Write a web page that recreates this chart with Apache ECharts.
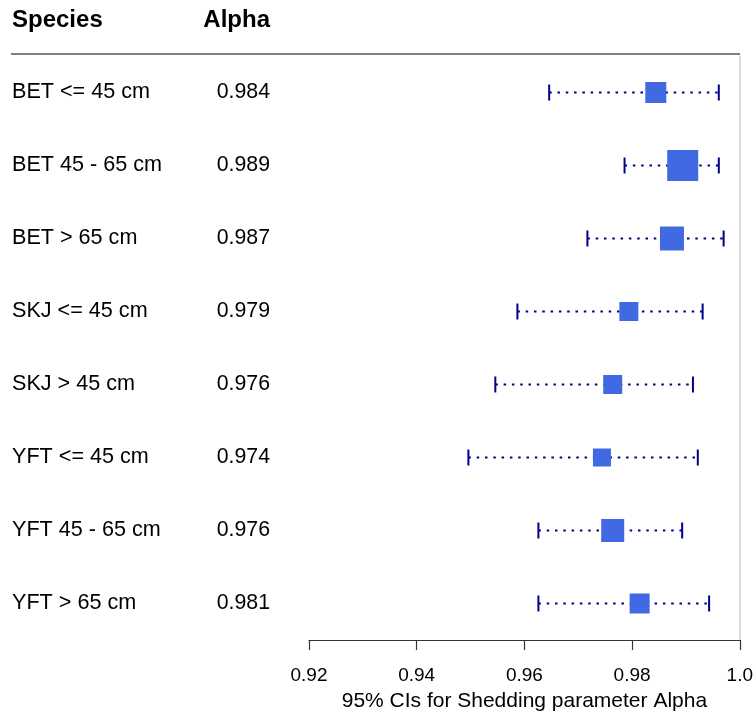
<!DOCTYPE html>
<html>
<head>
<meta charset="utf-8">
<script src="https://cdn.jsdelivr.net/npm/echarts@6/dist/echarts.min.js"></script>
<style>
html,body{margin:0;padding:0;background:#fff;}
#chart{width:756px;height:717px;}
</style>
</head>
<body>
<div id="chart"></div>
<script>
// ---- data ----
const species = ["BET <= 45 cm", "BET 45 - 65 cm", "BET > 65 cm", "SKJ <= 45 cm",
                 "SKJ > 45 cm", "YFT <= 45 cm", "YFT 45 - 65 cm", "YFT > 65 cm"];
const alphaEst = [0.9844, 0.9894, 0.9874, 0.9794, 0.9764, 0.9744, 0.9764, 0.9814];
const ciLower  = [0.9646, 0.9786, 0.9717, 0.9587, 0.9546, 0.9496, 0.9626, 0.9626];
const ciUpper  = [0.9961, 0.9961, 0.9970, 0.9931, 0.9913, 0.9922, 0.9893, 0.9943];
const boxWeight = [0.21, 0.31, 0.24, 0.19, 0.19, 0.18, 0.23, 0.20];
const xTicks = [0.92, 0.94, 0.96, 0.98, 1.0];

// ---- chart ----
const FONT = "'Liberation Sans', Arial, Helvetica, sans-serif";
const NAVY = '#00008B';
const BOX = '#4169E1';
const BOX_SCALE = 100;

const alphaLabels = alphaEst.map(v => v.toFixed(3));
const rows = species.map((s, i) => [i, ciLower[i], alphaEst[i], ciUpper[i], boxWeight[i]]);

function renderItem(params, api) {
  const yi = api.value(0);
  const lo = api.coord([api.value(1), yi]);
  const est = api.coord([api.value(2), yi]);
  const hi = api.coord([api.value(3), yi]);
  const s = api.value(4) * BOX_SCALE;
  const capH = 16;
  return {
    type: 'group',
    children: [
      { type: 'line', shape: { x1: lo[0], y1: lo[1], x2: hi[0], y2: hi[1] },
        style: { stroke: NAVY, lineWidth: 2, lineDash: [2.5, 5.8] } },
      { type: 'line', shape: { x1: lo[0], y1: lo[1] - capH / 2, x2: lo[0], y2: lo[1] + capH / 2 },
        style: { stroke: NAVY, lineWidth: 2 } },
      { type: 'line', shape: { x1: hi[0], y1: hi[1] - capH / 2, x2: hi[0], y2: hi[1] + capH / 2 },
        style: { stroke: NAVY, lineWidth: 2 } },
      { type: 'rect', shape: { x: est[0] - s / 2, y: est[1] - s / 2, width: s, height: s },
        style: { fill: BOX } }
    ]
  };
}

const chart = echarts.init(document.getElementById('chart'), null, { renderer: 'canvas' });
chart.setOption({
  animation: false,
  backgroundColor: '#fff',
  textStyle: { fontFamily: FONT },
  grid: { left: 309, right: 16, top: 56, bottom: 74, containLabel: false },
  xAxis: {
    type: 'value',
    min: xTicks[0], max: xTicks[xTicks.length - 1], interval: 0.02,
    axisLine: { show: true, lineStyle: { color: '#333', width: 1.2 } },
    axisTick: { show: true, length: 10, lineStyle: { color: '#333', width: 1.2 } },
    splitLine: { show: false },
    axisLabel: {
      color: '#000', fontSize: 19, fontFamily: FONT, margin: 26,
      formatter: v => (Math.abs(v - 1) < 1e-9 ? '1.0' : v.toFixed(2))
    },
    name: '95% CIs for Shedding parameter Alpha',
    nameLocation: 'middle', nameGap: 51,
    nameTextStyle: { color: '#000', fontSize: 21, fontFamily: FONT }
  },
  yAxis: [
    {
      type: 'category', data: species, inverse: true, position: 'left',
      axisLine: { show: false }, axisTick: { show: false }, splitLine: { show: false },
      axisLabel: { align: 'left', margin: 297, color: '#000', fontSize: 21.6, fontFamily: FONT }
    },
    {
      type: 'category', data: alphaLabels, inverse: true, position: 'left',
      axisLine: { show: false }, axisTick: { show: false }, splitLine: { show: false },
      axisLabel: { align: 'right', margin: 39, color: '#000', fontSize: 21.3, fontFamily: FONT }
    },
    {
      type: 'category', data: species, inverse: true, position: 'right',
      axisLine: { show: true, lineStyle: { color: '#d0d0d0', width: 1.5 } },
      axisTick: { show: false }, axisLabel: { show: false }, splitLine: { show: false }
    }
  ],
  graphic: [
    { type: 'text', left: 12, top: 8,
      style: { text: 'Species', font: 'bold 24px ' + FONT, fill: '#000' } },
    { type: 'text', right: 756 - 270, top: 8,
      style: { text: 'Alpha', font: 'bold 24px ' + FONT, fill: '#000' } },
    { type: 'line', shape: { x1: 11, y1: 54, x2: 740, y2: 54 },
      style: { stroke: '#555', lineWidth: 1.5 } }
  ],
  series: [{
    type: 'custom',
    renderItem: renderItem,
    xAxisIndex: 0, yAxisIndex: 0,
    encode: { x: [1, 2, 3], y: 0 },
    data: rows,
    z: 5
  }]
});
</script>
</body>
</html>
